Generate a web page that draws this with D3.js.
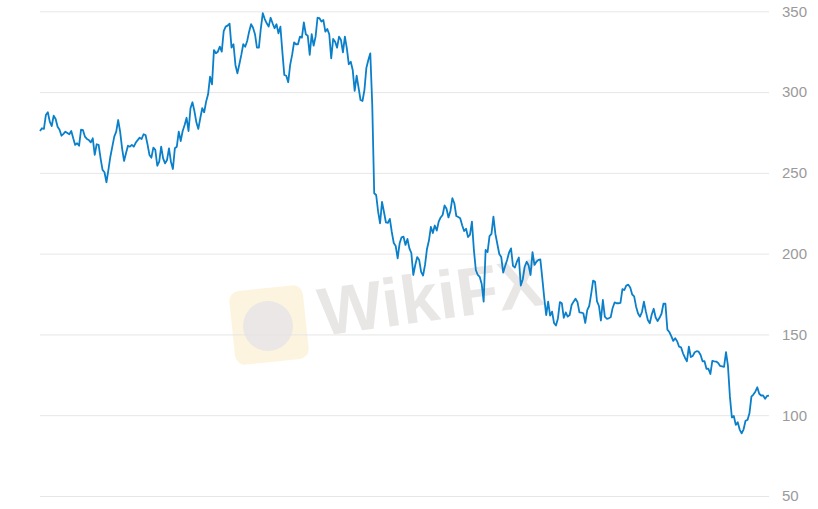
<!DOCTYPE html>
<html>
<head>
<meta charset="utf-8">
<script src="https://cdn.jsdelivr.net/npm/d3@7"></script>
<style>
  html, body { margin: 0; padding: 0; background: #ffffff; }
  svg { display: block; }
</style>
</head>
<body>
<svg id="chart" width="818" height="509"></svg>
<script>
// ---- data ----
const yTicks = [50, 100, 150, 200, 250, 300, 350];
const prices = [
  275.9, 277.6, 277.2, 285.8, 287.5, 281.7, 279.0, 285.4, 283.3, 278.6,
  276.7, 273.0, 274.2, 275.5, 274.7, 273.9, 275.9, 271.4, 267.3, 268.3,
  266.8, 276.7, 276.4, 272.4, 271.0, 270.3, 268.9, 271.4, 261.1, 267.7,
  267.3, 259.0, 251.8, 250.4, 244.2, 251.8, 260.0, 266.2, 272.4, 275.5,
  282.7, 275.5, 265.2, 257.4, 262.1, 266.8, 266.2, 267.3, 266.2, 268.7,
  270.3, 271.8, 271.0, 273.9, 273.4, 267.7, 261.1, 259.4, 265.6, 264.2,
  254.4, 256.9, 266.2, 259.0, 255.9, 258.0, 265.2, 256.9, 252.4, 265.2,
  266.2, 275.5, 269.7, 275.9, 279.6, 284.1, 275.9, 290.0, 293.7, 288.3,
  281.3, 277.2, 283.8, 290.0, 287.5, 294.1, 298.6, 309.5, 304.8, 326.0,
  324.0, 325.0, 328.1, 325.0, 337.8, 340.5, 341.1, 342.3, 327.5, 329.6,
  316.8, 311.6, 317.2, 323.0, 329.6, 328.1, 331.6, 337.4, 342.0, 339.8,
  335.8, 327.5, 327.5, 339.5, 348.8, 345.2, 342.6, 340.5, 346.0, 342.6,
  339.5, 342.0, 336.4, 340.5, 325.0, 310.6, 310.1, 306.1, 316.8, 323.0,
  330.8, 329.6, 329.6, 334.3, 333.7, 343.2, 335.8, 334.9, 323.0, 335.8,
  328.7, 334.3, 346.0, 345.7, 343.6, 344.6, 337.4, 339.0, 335.8, 320.9,
  332.9, 331.2, 327.5, 334.3, 332.2, 324.6, 334.3, 327.1, 317.2, 318.8,
  313.7, 300.7, 310.1, 302.7, 295.1, 294.5, 301.3, 315.1, 319.9, 324.0,
  292.0, 237.4, 236.3, 226.0, 218.8, 232.0, 225.8, 219.3, 219.0, 221.5,
  213.4, 206.6, 204.7, 197.1, 206.4, 210.1, 210.5, 205.4, 209.1, 203.3,
  200.4, 186.8, 193.0, 197.9, 196.1, 188.7, 186.5, 193.0, 202.9, 208.1,
  216.5, 212.8, 217.4, 214.3, 219.8, 222.4, 223.9, 229.8, 227.8, 222.4,
  226.4, 234.3, 231.2, 223.3, 222.7, 221.9, 217.6, 214.0, 215.4, 210.3,
  211.7, 219.8, 202.3, 189.9, 186.8, 185.6, 181.2, 170.3, 202.3, 201.0,
  210.9, 212.2, 222.9, 212.2, 206.0, 199.8, 197.9, 188.3, 192.4, 196.1,
  200.7, 203.3, 192.4, 191.4, 195.0, 197.6, 180.3, 184.0, 191.9, 195.0,
  192.7, 186.8, 201.0, 193.0, 195.0, 196.1, 196.4, 184.9, 172.6, 162.0,
  170.3, 161.7, 164.1, 157.1, 155.5, 159.9, 170.0, 169.3, 160.3, 163.6,
  161.0, 162.0, 168.2, 170.3, 172.1, 170.1, 163.6, 163.5, 163.1, 157.1,
  165.1, 167.6, 175.0, 183.3, 182.6, 170.4, 167.6, 158.6, 171.3, 161.0,
  159.7, 160.0, 160.6, 166.4, 169.8, 169.3, 169.3, 169.5, 178.0, 177.5,
  180.3, 180.8, 179.1, 174.7, 173.6, 167.2, 163.0, 161.0, 163.9, 170.3,
  164.1, 158.9, 156.9, 162.3, 165.9, 160.5, 158.3, 160.3, 162.8, 169.0,
  169.0, 153.0, 151.5, 149.0, 146.0, 147.6, 145.8, 142.4, 142.0, 138.3,
  135.6, 133.4, 142.4, 136.0, 136.7, 139.0, 139.6, 139.3, 137.3, 133.4,
  133.4, 128.7, 128.8, 125.5, 133.6, 133.3, 133.2, 132.3, 130.5, 130.2,
  129.9, 139.1, 130.5, 111.5, 98.6, 99.5, 94.0, 95.6, 91.1, 88.8,
  91.3, 96.6, 97.1, 101.2, 111.5, 112.8, 114.6, 117.3, 113.3, 112.2,
  112.2, 110.2, 111.9, 112.2
];

// ---- layout ----
const svg = d3.select("#chart");
const plotLeft = 40, plotRight = 769;
const yTop = 11.3, yBottom = 496;

const x = d3.scaleLinear().domain([0, prices.length - 1]).range([plotLeft, plotRight]);
const y = d3.scaleLinear().domain([50, 350]).range([yBottom, yTop]);

// watermark (faint)
const wm = svg.append("g").attr("opacity", 0.55);
wm.append("rect")
  .attr("x", 232).attr("y", 288).attr("width", 74).attr("height", 74)
  .attr("rx", 10)
  .attr("fill", "#fbecc6")
  .attr("transform", "rotate(-6 269 325)");
wm.append("circle").attr("cx", 268).attr("cy", 326).attr("r", 25).attr("fill", "#d9d4d2");
wm.append("text")
  .attr("x", 322).attr("y", 336)
  .attr("font-family", "Liberation Sans, Arial, sans-serif")
  .attr("font-weight", "bold")
  .attr("font-size", 68)
  .attr("fill", "#d8d2d2")
  .attr("transform", "rotate(-8 322 336)")
  .text("WikiFX");

// grid + right axis
const axis = d3.axisRight(y).tickValues(yTicks).tickSize(plotRight - plotLeft).tickPadding(13).tickFormat(d3.format("d"));
const gAxis = svg.append("g").attr("transform", `translate(${plotLeft},0)`).call(axis);
gAxis.select(".domain").remove();
gAxis.selectAll(".tick line").attr("stroke", "#e6e6e6").attr("stroke-width", 1);
gAxis.selectAll(".tick text")
  .attr("fill", "#9a9a9a")
  .attr("font-family", "Liberation Sans, Arial, sans-serif")
  .attr("font-size", 15);

// line
const line = d3.line().x((d, i) => x(i)).y(d => y(d));
svg.append("path")
  .datum(prices)
  .attr("fill", "none")
  .attr("stroke", "#0a7fca")
  .attr("stroke-width", 1.8)
  .attr("stroke-linejoin", "round")
  .attr("d", line);
</script>
</body>
</html>
